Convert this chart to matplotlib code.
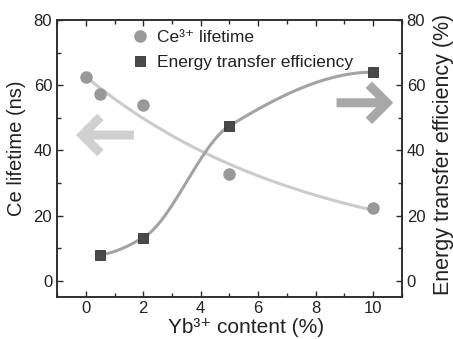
import numpy as np
import matplotlib
matplotlib.use("Agg")
import matplotlib.pyplot as plt
from matplotlib.patches import FancyArrowPatch
from matplotlib.ticker import MultipleLocator

plt.rcParams['font.family'] = ['Liberation Sans', 'DejaVu Sans']

# data
yb_ce = [0, 0.5, 2, 5, 10]
ce_lifetime = [62.5, 57.2, 54.0, 32.8, 22.4]

yb_et = [0.5, 2, 5, 10]
et_efficiency = [8.0, 13.2, 47.5, 64.0]


def exp_decay_fit(x, y):
    # y = y0 + A*exp(-x/t), scan t, linear least squares for y0 and A
    x = np.asarray(x, float)
    y = np.asarray(y, float)
    best = None
    for t in np.linspace(1, 30, 2901):
        M = np.column_stack([np.ones_like(x), np.exp(-x / t)])
        coef = np.linalg.lstsq(M, y, rcond=None)[0]
        err = np.sum((M @ coef - y) ** 2)
        if best is None or err < best[0]:
            best = (err, coef[0], coef[1], t)
    return best[1:]


def pchip(x, y, xs):
    # monotone cubic through the points (Fritsch-Carlson)
    x = np.asarray(x, float)
    y = np.asarray(y, float)
    h = np.diff(x)
    d = np.diff(y) / h
    n = len(x)
    m = np.zeros(n)
    for k in range(1, n - 1):
        if d[k - 1] * d[k] > 0:
            w1 = 2 * h[k] + h[k - 1]
            w2 = h[k] + 2 * h[k - 1]
            m[k] = (w1 + w2) / (w1 / d[k - 1] + w2 / d[k])
    def end(h0, h1, d0, d1):
        s = ((2 * h0 + h1) * d0 - h0 * d1) / (h0 + h1)
        if np.sign(s) != np.sign(d0):
            s = 0.0
        elif np.sign(d0) != np.sign(d1) and abs(s) > abs(3 * d0):
            s = 3 * d0
        return s
    m[0] = end(h[0], h[1], d[0], d[1])
    m[-1] = end(h[-1], h[-2], d[-1], d[-2])
    out = np.empty_like(xs)
    for j, xv in enumerate(xs):
        i = int(np.clip(np.searchsorted(x, xv, side='right') - 1, 0, n - 2))
        t = (xv - x[i]) / h[i]
        h00 = 2 * t**3 - 3 * t**2 + 1
        h10 = t**3 - 2 * t**2 + t
        h01 = -2 * t**3 + 3 * t**2
        h11 = t**3 - t**2
        out[j] = h00 * y[i] + h10 * h[i] * m[i] + h01 * y[i + 1] + h11 * h[i] * m[i + 1]
    return out


fig = plt.figure(figsize=(4.53, 3.39), dpi=100)
ax = fig.add_axes([0.126, 0.124, 0.761, 0.817])
ax2 = ax.twinx()

axcol = '#2a2a2a'
txtcol = '#222222'
for a in (ax, ax2):
    a.set_xlim(-1, 11)
    a.set_ylim(-5, 80)
    for s in a.spines.values():
        s.set_color(axcol)
        s.set_linewidth(1.1)

# fit lines
y0, A, t = exp_decay_fit(yb_ce, ce_lifetime)
xf = np.linspace(0, 10, 200)
ax.plot(xf, y0 + A * np.exp(-xf / t), color='#cbcbcb', lw=2.2, zorder=2)

xs = np.linspace(yb_et[0], yb_et[-1], 200)
ax.plot(xs, pchip(yb_et, et_efficiency, xs), color='#a3a3a3', lw=2.2, zorder=2)

ax.plot(yb_ce, ce_lifetime, 'o', color='#999999', ms=8, mec='#999999',
        label='Ce³⁺ lifetime', zorder=3)
ax2.plot(yb_et, et_efficiency, 's', color='#4a4a4a', ms=6.8, mec='#333333',
         mew=0.6, label='Energy transfer efficiency', zorder=3)

# arrows
for (x0, x1, yv, col) in [(1.77, -0.44, 44.7, '#d0d0d0'), (8.63, 10.8, 54.6, '#a8a8a8')]:
    arr = FancyArrowPatch((x0, yv), (x1, yv), transform=ax.transData,
                          arrowstyle='->,head_length=13,head_width=13',
                          mutation_scale=1, color=col, lw=6.5,
                          capstyle='butt', joinstyle='miter', clip_on=False)
    ax.add_patch(arr)

ax.xaxis.set_major_locator(MultipleLocator(2))
ax.xaxis.set_minor_locator(MultipleLocator(1))
for a in (ax, ax2):
    a.yaxis.set_major_locator(MultipleLocator(20))
    a.yaxis.set_minor_locator(MultipleLocator(10))

ax.tick_params(axis='both', which='both', direction='in', top=True, colors=axcol,
               labelsize=12, labelcolor=txtcol)
ax.tick_params(which='major', length=4.5, width=1)
ax.tick_params(which='minor', length=3, width=1)
ax.tick_params(axis='x', which='major', pad=3)
ax2.tick_params(axis='y', which='both', direction='in', colors=axcol,
                labelsize=12, labelcolor=txtcol)
ax2.tick_params(which='major', length=4.5, width=1)
ax2.tick_params(which='minor', length=3, width=1)

ax.set_xlabel('Yb³⁺ content (%)', fontsize=15, color=txtcol)
ax.xaxis.set_label_coords(0.548, -0.077, transform=ax.transAxes)
ax.xaxis.label.set_va('top')
ax.set_ylabel('Ce lifetime (ns)', fontsize=14.5, color=txtcol)
ax.yaxis.set_label_coords(-0.09, 0.538, transform=ax.transAxes)
ax2.set_ylabel('Energy transfer efficiency (%)', fontsize=15.5, color=txtcol)
ax2.yaxis.set_label_coords(1.09, 0.514, transform=ax.transAxes)

h1, l1 = ax.get_legend_handles_labels()
h2, l2 = ax2.get_legend_handles_labels()
leg = ax.legend(h1 + h2, l1 + l2, loc='upper left', bbox_to_anchor=(0.17, 1.022),
                frameon=False, fontsize=12.5, handlelength=1.0, handletextpad=0.5,
                labelspacing=0.6, labelcolor=txtcol)

fig.savefig('out.png', dpi=100)
